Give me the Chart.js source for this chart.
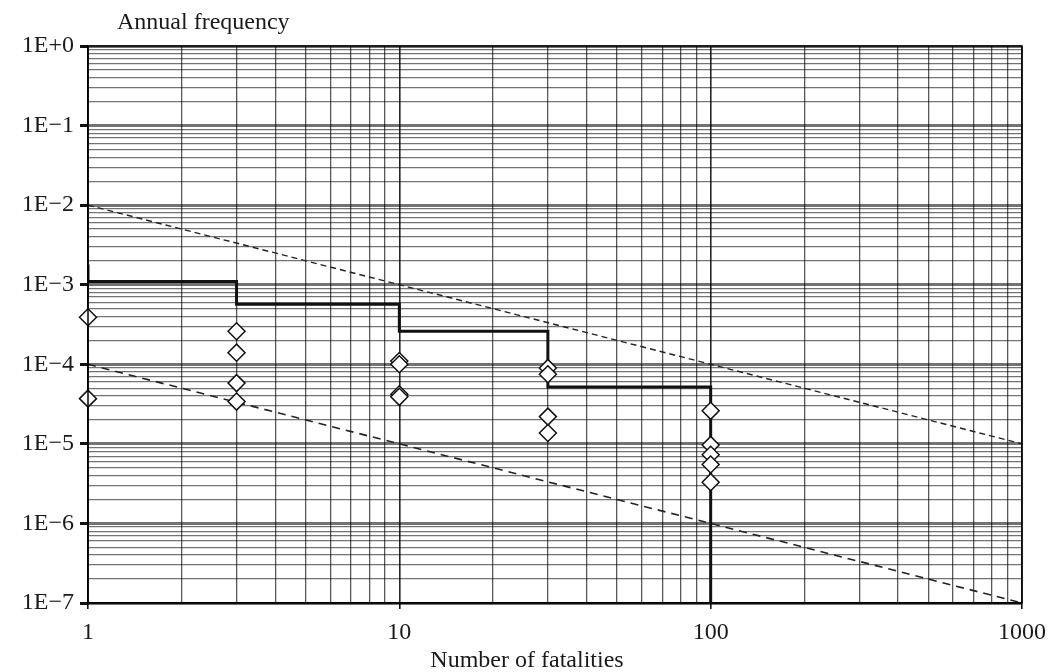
<!DOCTYPE html>
<html><head><meta charset="utf-8">
<script src="https://cdn.jsdelivr.net/npm/chart.js@4/dist/chart.umd.min.js"></script>
<style>html,body{margin:0;padding:0;background:#fff}#wrap{width:1057px;height:672px;position:relative}</style>
</head><body><div id="wrap"><canvas id="c" width="1057" height="672"></canvas></div>
<script>
// ---- data ----
const xTickValues = [1, 10, 100, 1000];
const xTickLabels = ['1', '10', '100', '1000'];
const yTickValues = [1, 1e-1, 1e-2, 1e-3, 1e-4, 1e-5, 1e-6, 1e-7];
const yTickLabels = ['1E+0', '1E\u22121', '1E\u22122', '1E\u22123', '1E\u22124', '1E\u22125', '1E\u22126', '1E\u22127'];

const stepN = [1, 1, 3, 10, 30, 100];
const stepF = [1.8e-3, 1.1e-3, 5.7e-4, 2.6e-4, 5.2e-5, 1e-7];

const obsN = [1, 1, 3, 3, 3, 3, 10, 10, 10, 10, 30, 30, 30, 30, 100, 100, 100, 100, 100];
const obsF = [3.9e-4, 3.7e-5, 2.6e-4, 1.4e-4, 5.8e-5, 3.4e-5, 1.1e-4, 1.0e-4, 4.2e-5, 3.9e-5,
              9.0e-5, 7.5e-5, 2.2e-5, 1.37e-5, 2.6e-5, 9.7e-6, 7.3e-6, 5.5e-6, 3.3e-6];

const upperN = [1, 1000];
const upperF = [1e-2, 1e-5];
const lowerN = [1, 1000];
const lowerF = [1e-4, 1e-7];

const xTitle = 'Number of fatalities';
const yTitle = 'Annual frequency';

// ---- helpers ----
function logGrid(min, max) {
  const out = [];
  for (let d = Math.round(Math.log10(min)); d < Math.round(Math.log10(max)); d++) {
    for (let m = 1; m <= 9; m++) out.push(m * Math.pow(10, d));
  }
  out.push(max);
  return out;
}
function majorIndex(list, v) {
  for (let i = 0; i < list.length; i++) if (Math.abs(v / list[i] - 1) < 1e-6) return i;
  return -1;
}
const pts = (xs, ys) => xs.map((x, i) => ({x: x, y: ys[i]}));

const FONT = '"Liberation Serif", "Times New Roman", serif';

const textPlugin = {
  id: 'texts',
  afterDraw(chart) {
    const ctx = chart.ctx, a = chart.chartArea;
    ctx.save();
    ctx.strokeStyle = '#000';
    ctx.lineWidth = 1.5;
    ctx.strokeRect(a.left, a.top, a.right - a.left, a.bottom - a.top);
    ctx.fillStyle = '#1a1a1a';
    ctx.font = '24px ' + FONT;
    ctx.textBaseline = 'alphabetic';
    ctx.textAlign = 'left';
    ctx.fillText(yTitle, 117, 29);
    ctx.textAlign = 'center';
    ctx.fillText(xTitle, 527, 667);
    ctx.restore();
  }
};

new Chart(document.getElementById('c'), {
  type: 'scatter',
  data: {
    datasets: [
      {
        label: 'Observed',
        data: pts(obsN, obsF),
        pointStyle: 'rectRot',
        pointRadius: 8.5,
        pointBackgroundColor: '#fff',
        pointBorderColor: '#111',
        pointBorderWidth: 1.5,
        showLine: false,
        clip: false
      },
      {
        label: 'F-N curve',
        data: pts(stepN, stepF),
        showLine: true,
        stepped: true,
        borderColor: '#111',
        borderWidth: 3,
        pointRadius: 0
      },
      {
        label: 'Upper criterion',
        data: pts(upperN, upperF),
        showLine: true,
        borderColor: '#222',
        borderWidth: 1.4,
        borderDash: [6, 4],
        pointRadius: 0
      },
      {
        label: 'Lower criterion',
        data: pts(lowerN, lowerF),
        showLine: true,
        borderColor: '#222',
        borderWidth: 1.6,
        borderDash: [8, 6],
        pointRadius: 0
      }
    ]
  },
  options: {
    responsive: false,
    animation: false,
    devicePixelRatio: 1,
    layout: {padding: {top: 46, right: 35, bottom: 0, left: 0}},
    plugins: {legend: {display: false}, tooltip: {enabled: false}, title: {display: false}},
    scales: {
      x: {
        type: 'logarithmic',
        min: 1, max: 1000,
        afterBuildTicks(s) { s.ticks = logGrid(1, 1000).map(v => ({value: v})); },
        afterFit(s) { s.height = 69; },
        ticks: {
          autoSkip: false, maxRotation: 0, minRotation: 0, padding: 9,
          color: '#1a1a1a', font: {family: FONT, size: 24},
          callback(v) { const i = majorIndex(xTickValues, v); return i >= 0 ? xTickLabels[i] : ''; }
        },
        grid: {
          tickLength: 6,
          color(c) { return majorIndex(xTickValues, c.tick.value) >= 0 ? 'rgba(0,0,0,0.85)' : 'rgba(0,0,0,0.65)'; },
          lineWidth(c) { return majorIndex(xTickValues, c.tick.value) >= 0 ? 1.6 : 1.3; },
          tickColor(c) { return majorIndex(xTickValues, c.tick.value) >= 0 ? '#111' : 'rgba(0,0,0,0)'; }
        },
        border: {display: true, color: '#000', width: 1.5}
      },
      y: {
        type: 'logarithmic',
        min: 1e-7, max: 1,
        afterBuildTicks(s) { s.ticks = logGrid(1e-7, 1).map(v => ({value: v})); },
        afterFit(s) { s.width = 88; },
        ticks: {
          autoSkip: false, padding: 6,
          color: '#1a1a1a', font: {family: FONT, size: 24},
          callback(v) { const i = majorIndex(yTickValues, v); return i >= 0 ? yTickLabels[i] : ''; }
        },
        grid: {
          tickLength: 8,
          color(c) { return majorIndex(yTickValues, c.tick.value) >= 0 ? 'rgba(0,0,0,0.55)' : 'rgba(0,0,0,0.55)'; },
          lineWidth(c) { return majorIndex(yTickValues, c.tick.value) >= 0 ? 3 : 1.2; },
          tickColor(c) { return majorIndex(yTickValues, c.tick.value) >= 0 ? '#111' : 'rgba(0,0,0,0)'; }
        },
        border: {display: true, color: '#000', width: 1.5}
      }
    }
  },
  plugins: [textPlugin]
});
</script>
</body></html>
